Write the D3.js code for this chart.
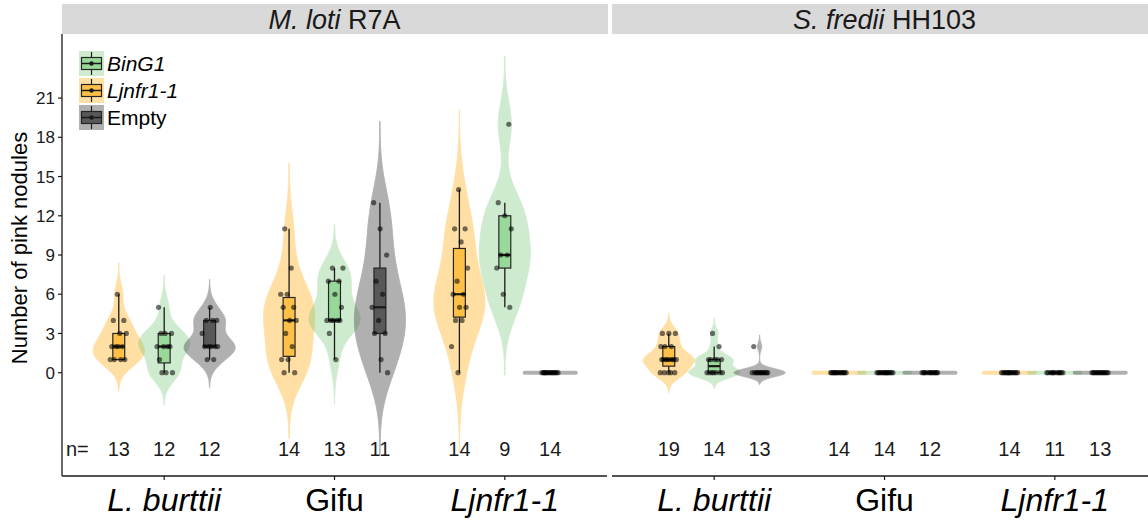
<!DOCTYPE html>
<html><head><meta charset="utf-8">
<script src="https://cdn.jsdelivr.net/npm/d3@7"></script>
<style>body{margin:0;background:#fff}svg{display:block;font-family:"Liberation Sans",Arial,sans-serif}</style>
</head><body><svg id="c" width="1148" height="522"></svg>
<script>
// ---------- data ----------
const panels = ["M. loti R7A", "S. fredii HH103"];
const hosts = ["L. burttii", "Gifu", "Ljnfr1-1"];
const constructs = ["Ljnfr1-1", "BinG1", "Empty"];      // dodge order
const legendOrder = ["BinG1", "Ljnfr1-1", "Empty"];
const yTicks = [0, 3, 6, 9, 12, 15, 18, 21];

// M. loti R7A
const mlBurttiiNfr   = [1,1,1,1,2,2,2,2,3,3,4,4,6];
const mlBurttiiBinG1 = [0,0,0,1,2,2,2,2,3,3,3,5];
const mlBurttiiEmpty = [1,1,2,2,2,2,2,3,4,4,4,5];
const mlGifuNfr      = [0,0,1,1,2,3,4,4,5,5,6,6,8,11];
const mlGifuBinG1    = [1,3,4,4,4,4,4,5,6,7,7,8,8];
const mlGifuEmpty    = [0,1,3,3,4,5,6,7,9,11,13];
const mlNfrNfr       = [0,2,4,4,5,5,6,6,7,8,10,11,11,14];
const mlNfrBinG1     = [5,6,8,9,9,11,12,13,19];
const mlNfrEmpty     = [0,0,0,0,0,0,0,0,0,0,0,0,0,0];
// S. fredii HH103
const sfBurttiiNfr   = [0,0,0,0,0,1,1,1,1,1,1,1,1,2,2,2,3,3,3];
const sfBurttiiBinG1 = [0,0,0,0,0,0,0,1,1,1,1,1,2,3];
const sfBurttiiEmpty = [0,0,0,0,0,0,0,0,0,0,0,0,2];
const sfGifuNfr      = [0,0,0,0,0,0,0,0,0,0,0,0,0,0];
const sfGifuBinG1    = [0,0,0,0,0,0,0,0,0,0,0,0,0,0];
const sfGifuEmpty    = [0,0,0,0,0,0,0,0,0,0,0,0];
const sfNfrNfr       = [0,0,0,0,0,0,0,0,0,0,0,0,0,0];
const sfNfrBinG1     = [0,0,0,0,0,0,0,0,0,0,0];
const sfNfrEmpty     = [0,0,0,0,0,0,0,0,0,0,0,0,0];

const groups = [
  [[mlBurttiiNfr, mlBurttiiBinG1, mlBurttiiEmpty],
   [mlGifuNfr, mlGifuBinG1, mlGifuEmpty],
   [mlNfrNfr, mlNfrBinG1, mlNfrEmpty]],
  [[sfBurttiiNfr, sfBurttiiBinG1, sfBurttiiEmpty],
   [sfGifuNfr, sfGifuBinG1, sfGifuEmpty],
   [sfNfrNfr, sfNfrBinG1, sfNfrEmpty]]
];

const style = {
  "Ljnfr1-1": {vio: "#FFB428", vioA: 0.42, box: "#FFC048", italic: true},
  "BinG1":    {vio: "#6CC46C", vioA: 0.32, box: "#98D899", italic: true},
  "Empty":    {vio: "#4D4D4D", vioA: 0.44, box: "#585858", italic: false}
};

// ---------- layout ----------
const svg = d3.select("#c");
const panelX = [[62, 607], [612, 1157]];
const yTop = 34, yBottom = 476;
const y = d3.scaleLinear().domain([-7.9, 25.9]).range([yBottom, yTop]);
const dodge = 0.8 / 3, vioW = 0.3, boxW = 0.07;

function bwNrd0(v) {
  const s = v.slice().sort(d3.ascending);
  const hi = d3.deviation(s) || 0;
  const iqr = d3.quantileSorted(s, 0.75) - d3.quantileSorted(s, 0.25);
  let lo = Math.min(hi, iqr / 1.34);
  if (!lo) lo = hi || Math.abs(s[0]) || 1;
  return 0.9 * lo * Math.pow(s.length, -0.2);
}

panels.forEach((pname, pi) => {
  const [x0, x1] = panelX[pi];
  const x = d3.scaleLinear().domain([0.4, 3.6]).range([x0, x1]);
  const unit = x(1) - x(0);
  const g = svg.append("g");

  // strip
  g.append("rect").attr("x", x0).attr("y", 4).attr("width", x1 - x0 + 1).attr("height", yTop - 4).attr("fill", "#D9D9D9");
  const parts = pname.split(" ");
  const st = g.append("text").attr("x", (x0 + x1) / 2).attr("y", 29).attr("text-anchor", "middle")
    .attr("font-size", 27).attr("fill", "#1a1a1a");
  st.append("tspan").attr("font-style", "italic").text(parts[0] + " " + parts[1]);
  st.append("tspan").text(" " + parts[2]);

  // violins, boxes, points
  groups[pi].forEach((hostGroups, hi) => {
    hostGroups.forEach((vals, ci) => {
      const c = constructs[ci];
      const sty = style[c];
      const cx = x(hi + 1 + (ci - 1) * dodge);
      const s = vals.slice().sort(d3.ascending);
      const uniq = new Set(s).size;
      const vg = g.append("g").attr("opacity", sty.vioA);
      if (uniq < 2) {
        vg.append("line").attr("x1", cx - vioW / 2 * unit).attr("x2", cx + vioW / 2 * unit)
          .attr("y1", y(s[0])).attr("y2", y(s[0]))
          .attr("stroke", sty.vio).attr("stroke-width", 4).attr("stroke-linecap", "round");
      } else {
        const bw = bwNrd0(s);
        const lo = s[0] - 3 * bw, hiV = s[s.length - 1] + 3 * bw;
        const grid = d3.range(256).map(i => lo + (hiV - lo) * i / 255);
        const dens = grid.map(t => d3.sum(s, v => Math.exp(-0.5 * ((t - v) / bw) ** 2)));
        const mx = d3.max(dens);
        const pts = grid.map((t, i) => ({t, d: dens[i] / mx}));
        const area = d3.area().y(d => y(d.t))
          .x0(d => cx - d.d * vioW / 2 * unit).x1(d => cx + d.d * vioW / 2 * unit);
        vg.append("path").attr("d", area(pts)).attr("fill", sty.vio)
          .attr("stroke", sty.vio).attr("stroke-width", 1);
      }
      // box
      const q1 = d3.quantileSorted(s, 0.25), med = d3.quantileSorted(s, 0.5), q3 = d3.quantileSorted(s, 0.75);
      const iqr = q3 - q1;
      const wLo = d3.min(s.filter(v => v >= q1 - 1.5 * iqr));
      const wHi = d3.max(s.filter(v => v <= q3 + 1.5 * iqr));
      const bw2 = boxW * unit / 2;
      const bg = g.append("g");
      bg.append("line").attr("x1", cx).attr("x2", cx).attr("y1", y(wHi)).attr("y2", y(q3))
        .attr("stroke", "#1a1a1a").attr("stroke-width", 1.3);
      bg.append("line").attr("x1", cx).attr("x2", cx).attr("y1", y(q1)).attr("y2", y(wLo))
        .attr("stroke", "#1a1a1a").attr("stroke-width", 1.3);
      bg.append("rect").attr("x", cx - bw2).attr("width", 2 * bw2)
        .attr("y", y(q3)).attr("height", Math.max(0, y(q1) - y(q3)))
        .attr("fill", sty.box).attr("stroke", "#262626").attr("stroke-width", 1.2);
      bg.append("line").attr("x1", cx - bw2).attr("x2", cx + bw2).attr("y1", y(med)).attr("y2", y(med))
        .attr("stroke", "#1a1a1a").attr("stroke-width", 2.2);
      // jittered points (deterministic jitter)
      vals.forEach((v, i) => {
        const j = (((i * 0.6180339 + ci * 0.37 + hi * 0.21) % 1) - 0.5) * 0.1 * unit;
        bg.append("circle").attr("cx", cx + j).attr("cy", y(v)).attr("r", 2.6)
          .attr("fill", "#000").attr("fill-opacity", 0.55);
      });
      // n labels
      g.append("text").attr("x", cx).attr("y", 456).attr("text-anchor", "middle")
        .attr("font-size", 20).attr("fill", "#1a1a1a").text(vals.length);
    });
  });

  // x axis
  g.append("line").attr("x1", x0).attr("x2", x1).attr("y1", yBottom).attr("y2", yBottom)
    .attr("stroke", "#1a1a1a").attr("stroke-width", 1.3);
  hosts.forEach((h, hi) => {
    g.append("line").attr("x1", x(hi + 1)).attr("x2", x(hi + 1)).attr("y1", yBottom).attr("y2", yBottom + 4)
      .attr("stroke", "#1a1a1a").attr("stroke-width", 1.2);
    g.append("text").attr("x", x(hi + 1)).attr("y", 511).attr("text-anchor", "middle")
      .attr("font-size", 32).attr("fill", "#000")
      .attr("font-style", h === "Gifu" ? "normal" : "italic").text(h);
  });
  if (pi === 0) {
    g.append("text").attr("x", 66).attr("y", 456).attr("font-size", 20).attr("fill", "#1a1a1a").text("n=");
  }
});

// y axis (left panel only)
const ax = svg.append("g");
ax.append("line").attr("x1", 62).attr("x2", 62).attr("y1", yTop).attr("y2", yBottom)
  .attr("stroke", "#1a1a1a").attr("stroke-width", 1.3);
yTicks.forEach(t => {
  ax.append("line").attr("x1", 58).attr("x2", 62).attr("y1", y(t)).attr("y2", y(t))
    .attr("stroke", "#1a1a1a").attr("stroke-width", 1.2);
  ax.append("text").attr("x", 55).attr("y", y(t)).attr("dy", "0.36em").attr("text-anchor", "end")
    .attr("font-size", 17).attr("fill", "#1a1a1a").text(t);
});
svg.append("text").attr("transform", `translate(27,248) rotate(-90)`)
  .attr("text-anchor", "middle").attr("font-size", 22).attr("fill", "#000").text("Number of pink nodules");

// legend
legendOrder.forEach((c, i) => {
  const sty = style[c];
  const ky = 51 + i * 27, kx = 79;
  const lg = svg.append("g");
  lg.append("rect").attr("x", kx).attr("y", ky).attr("width", 25).attr("height", 25)
    .attr("fill", sty.vio).attr("fill-opacity", sty.vioA);
  lg.append("line").attr("x1", kx + 12.5).attr("x2", kx + 12.5).attr("y1", ky + 1).attr("y2", ky + 24)
    .attr("stroke", "#1a1a1a").attr("stroke-width", 1.2);
  lg.append("rect").attr("x", kx + 2.5).attr("y", ky + 6.5).attr("width", 20).attr("height", 12)
    .attr("fill", sty.box).attr("stroke", "#262626").attr("stroke-width", 1.2);
  lg.append("line").attr("x1", kx + 2.5).attr("x2", kx + 22.5).attr("y1", ky + 12.5).attr("y2", ky + 12.5)
    .attr("stroke", "#1a1a1a").attr("stroke-width", 1.5);
  lg.append("circle").attr("cx", kx + 12.5).attr("cy", ky + 12.5).attr("r", 2.2).attr("fill", "#1a1a1a");
  lg.append("text").attr("x", 107).attr("y", ky + 20).attr("font-size", 21).attr("fill", "#000")
    .attr("font-style", sty.italic ? "italic" : "normal").text(c);
});
</script></body></html>
